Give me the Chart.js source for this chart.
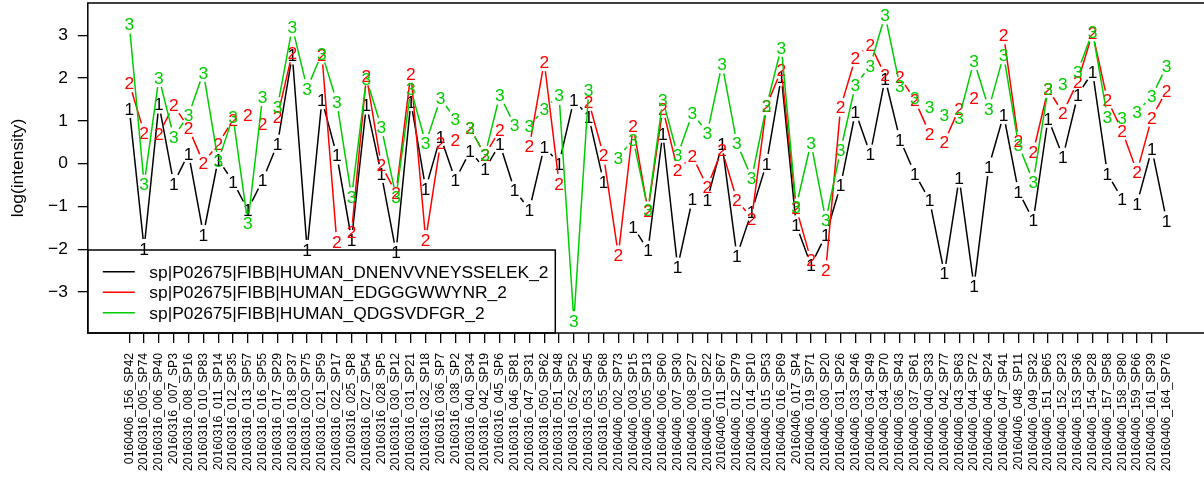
<!DOCTYPE html>
<html>
<head>
<meta charset="utf-8">
<script src="https://cdn.jsdelivr.net/npm/chart.js@4/dist/chart.umd.min.js"></script>
<style>
  html, body { margin: 0; padding: 0; background: #ffffff; overflow: hidden; }
  #wrap { width: 1204px; height: 483px; }
</style>
</head>
<body>
<div id="wrap"><canvas id="chart" width="1204" height="483"></canvas></div>
<script>
// Run identifiers along the x axis
const samples = [
  '0160406_156_SP42', '20160316_005_SP74', '20160316_006_SP40', '20160316_007_SP3',
  '20160316_008_SP16', '20160316_010_SP83', '20160316_011_SP14', '20160316_012_SP35',
  '20160316_013_SP57', '20160316_016_SP55', '20160316_017_SP29', '20160316_018_SP37',
  '20160316_020_SP75', '20160316_021_SP59', '20160316_022_SP17', '20160316_025_SP8',
  '20160316_027_SP54', '20160316_028_SP5', '20160316_030_SP12', '20160316_031_SP21',
  '20160316_032_SP18', '20160316_036_SP7', '20160316_038_SP2', '20160316_040_SP34',
  '20160316_042_SP19', '20160316_045_SP6', '20160316_046_SP81', '20160316_047_SP31',
  '20160316_050_SP62', '20160316_051_SP48', '20160316_052_SP52', '20160316_053_SP45',
  '20160316_055_SP68', '20160406_002_SP73', '20160406_003_SP15', '20160406_005_SP13',
  '20160406_006_SP60', '20160406_007_SP30', '20160406_008_SP27', '20160406_010_SP22',
  '20160406_011_SP67', '20160406_012_SP79', '20160406_014_SP10', '20160406_015_SP53',
  '20160406_016_SP69', '20160406_017_SP4', '20160406_019_SP71', '20160406_030_SP20',
  '20160406_031_SP26', '20160406_033_SP46', '20160406_034_SP49', '20160406_034_SP70',
  '20160406_036_SP43', '20160406_037_SP61', '20160406_040_SP33', '20160406_042_SP77',
  '20160406_043_SP63', '20160406_044_SP72', '20160406_046_SP24', '20160406_047_SP41',
  '20160406_048_SP11', '20160406_049_SP32', '20160406_151_SP65', '20160406_152_SP23',
  '20160406_153_SP36', '20160406_154_SP28', '20160406_157_SP58', '20160406_158_SP80',
  '20160406_159_SP66', '20160406_161_SP39', '20160406_164_SP76'
];

// Peptide names (legend entries)
const peptides = [
  'sp|P02675|FIBB|HUMAN_DNENVVNEYSSELEK_2',
  'sp|P02675|FIBB|HUMAN_EDGGGWWYNR_2',
  'sp|P02675|FIBB|HUMAN_QDGSVDFGR_2'
];

// log(intensity) per run; null = not quantified
const dnenvvLog = [
  1.29, -1.98, 1.39, -0.46, 0.24, -1.65, 0.10, -0.42, -1.08, -0.38,
  0.46, 2.54, -2.00, 1.49, 0.20, -1.77, 1.37, -0.23, -2.06, 1.45,
  -0.58, 0.63, -0.38, 0.30, -0.13, 0.46, -0.62, -1.07, 0.40, 0.01,
  1.49, 1.10, -0.42, null, -1.47, -2.02, 0.71, -2.41, -0.83, -0.85,
  0.46, -2.15, -1.12, 0.01, 2.03, -1.43, -2.37, -1.67, -0.50, 1.21,
  0.23, 1.99, 0.57, -0.23, -0.85, -2.56, -0.34, -2.86, -0.07, 1.14,
  -0.65, -1.32, 1.06, 0.16, 1.60, 2.15, -0.23, -0.83, -0.93, 0.34,
  -1.33
];
const edgggLog = [
  1.88, 0.73, 0.69, 1.37, 0.83, 0.02, 0.46, 1.03, 1.14, 0.93,
  1.10, 2.59, null, 2.54, -1.82, -1.60, 2.05, -0.03, -0.68, 2.11,
  -1.77, 0.48, 0.57, 0.83, 0.20, 0.79, null, 0.41, 2.38, -0.46,
  null, 1.45, 0.20, -2.13, 0.88, -1.10, 1.29, -0.15, 0.18, -0.54,
  0.32, -0.85, -1.28, 1.35, 2.19, -1.04, -2.25, -2.48, 1.32, 2.48,
  2.79, 2.07, 2.03, 1.49, 0.71, 0.51, 1.29, 1.55, null, 3.01,
  0.53, 0.28, 1.74, 1.19, 1.92, 3.05, 1.49, 0.77, -0.19, 1.08,
  1.71
];
const qdgsvLog = [
  3.26, -0.48, 2.01, 0.63, 1.14, 2.13, 0.06, 1.10, -1.39, 1.57,
  1.33, 3.19, 1.76, 2.58, 1.45, -0.77, 1.98, 0.86, -0.77, 1.74,
  0.48, 1.53, 1.04, 0.83, 0.20, 1.60, 0.90, 0.88, 1.28, 1.60,
  -3.67, 1.72, null, 0.15, 0.57, -1.07, 1.49, 0.20, 1.18, 0.72,
  2.33, 0.48, -0.34, 1.35, 2.72, -1.00, 0.49, -1.32, 0.32, 1.84,
  2.29, 3.47, 1.81, 1.53, 1.32, 1.14, 1.08, 2.40, 1.29, 2.54,
  0.44, -0.42, 1.76, 1.86, 2.15, 3.08, 1.10, 1.08, 1.21, 1.58,
  2.28
];

const yTicks = [-3, -2, -1, 0, 1, 2, 3];
const yTitle = 'log(intensity)';

const FONT = '"Liberation Sans", Arial, Helvetica, sans-serif';
const BASE = 17.4;
const seriesColors = ['#000000', '#FF0000', '#00CD00'];
const seriesSymbols = ['1', '2', '3'];
const seriesValues = [dnenvvLog, edgggLog, qdgsvLog];

const toPoints = vals => vals.map((v, i) => ({ x: i + 1, y: v }));

// Lines with gaps around each point (type "b" style), numeric symbols, legend, frame
const markPlugin = {
  id: 'numberedLines',
  afterDatasetsDraw(chart) {
    const ctx = chart.ctx;
    const area = chart.chartArea;
    const gap = 9.5;
    const fs = BASE;
    ctx.save();
    chart.data.datasets.forEach((ds, di) => {
      const meta = chart.getDatasetMeta(di);
      const pts = meta.data;
      ctx.strokeStyle = ds.borderColor;
      ctx.lineWidth = 1.5;
      ctx.beginPath();
      for (let i = 1; i < pts.length; i++) {
        if (ds.data[i - 1].y == null || ds.data[i].y == null) continue;
        const p0 = pts[i - 1], p1 = pts[i];
        const dx = p1.x - p0.x, dy = p1.y - p0.y;
        const d = Math.hypot(dx, dy);
        if (d <= 2 * gap) continue;
        const f = gap / d;
        ctx.moveTo(p0.x + f * dx, p0.y + f * dy);
        ctx.lineTo(p1.x - f * dx, p1.y - f * dy);
      }
      ctx.stroke();
      ctx.fillStyle = ds.borderColor;
      ctx.font = fs + 'px ' + FONT;
      ctx.textAlign = 'center';
      ctx.textBaseline = 'alphabetic';
      pts.forEach((p, i) => {
        if (ds.data[i].y == null) return;
        ctx.fillText(seriesSymbols[di], p.x, p.y + 0.358 * fs);
      });
    });

    // plot frame (right side lies past the canvas edge)
    ctx.strokeStyle = '#000';
    ctx.lineWidth = 1.5;
    ctx.strokeRect(area.left, area.top, area.right - area.left + 10, area.bottom - area.top);

    // legend box in the lower-left corner
    const lx = area.left, ly = area.bottom - 83, lw = 467.5, lh = 83;
    ctx.strokeRect(lx, ly, lw, lh);
    ctx.font = fs + 'px ' + FONT;
    ctx.textAlign = 'left';
    chart.data.datasets.forEach((ds, di) => {
      const yy = ly + 21.7 + di * 20.5;
      ctx.strokeStyle = ds.borderColor;
      ctx.lineWidth = 1.5;
      ctx.beginPath();
      ctx.moveTo(lx + 15, yy);
      ctx.lineTo(lx + 47, yy);
      ctx.stroke();
      ctx.fillStyle = '#000';
      ctx.fillText(ds.label, lx + 61.5, yy + 0.358 * fs);
    });

    // y axis title
    ctx.save();
    ctx.translate(18.5, (area.top + area.bottom) / 2);
    ctx.rotate(-Math.PI / 2);
    ctx.textAlign = 'center';
    ctx.textBaseline = 'middle';
    ctx.fillStyle = '#000';
    ctx.font = fs + 'px ' + FONT;
    ctx.fillText(yTitle, 0, 0);
    ctx.restore();
    ctx.restore();
  }
};

new Chart(document.getElementById('chart').getContext('2d'), {
  type: 'line',
  data: {
    datasets: seriesValues.map((vals, i) => ({
      label: peptides[i],
      data: toPoints(vals),
      borderColor: seriesColors[i],
      backgroundColor: seriesColors[i],
      showLine: false,
      pointRadius: 0,
      pointHoverRadius: 0,
      spanGaps: false
    }))
  },
  options: {
    responsive: false,
    animation: false,
    devicePixelRatio: 1,
    events: [],
    layout: { padding: { top: 3, left: 0, right: 0, bottom: 0 } },
    plugins: { legend: { display: false }, tooltip: { enabled: false } },
    scales: {
      x: {
        type: 'linear',
        min: -1.8,
        max: 73.52,
        afterBuildTicks: s => { s.ticks = samples.map((_, i) => ({ value: i + 1 })); },
        afterFit: s => { s.height = 150; s.paddingLeft = 0; s.paddingRight = 0; },
        border: { display: false },
        grid: { drawOnChartArea: false, drawTicks: true, tickLength: 10, color: '#000', lineWidth: 1.3 },
        ticks: {
          autoSkip: false,
          minRotation: 90,
          maxRotation: 90,
          padding: 10,
          color: '#000',
          font: { family: FONT, size: 12.2 },
          callback: v => samples[Math.round(v) - 1] ?? ''
        }
      },
      y: {
        type: 'linear',
        min: -3.956,
        max: 3.755,
        afterBuildTicks: s => { s.ticks = yTicks.map(v => ({ value: v })); },
        afterFit: s => { s.width = 87.8; s.paddingTop = 0; s.paddingBottom = 0; },
        border: { display: false },
        grid: { drawOnChartArea: false, drawTicks: true, tickLength: 10, color: '#000', lineWidth: 1.3 },
        ticks: {
          padding: 10,
          color: '#000',
          font: { family: FONT, size: BASE },
          callback: v => (v < 0 ? '\u2212' + Math.abs(v) : String(v))
        }
      }
    }
  },
  plugins: [markPlugin]
});
</script>
</body>
</html>
